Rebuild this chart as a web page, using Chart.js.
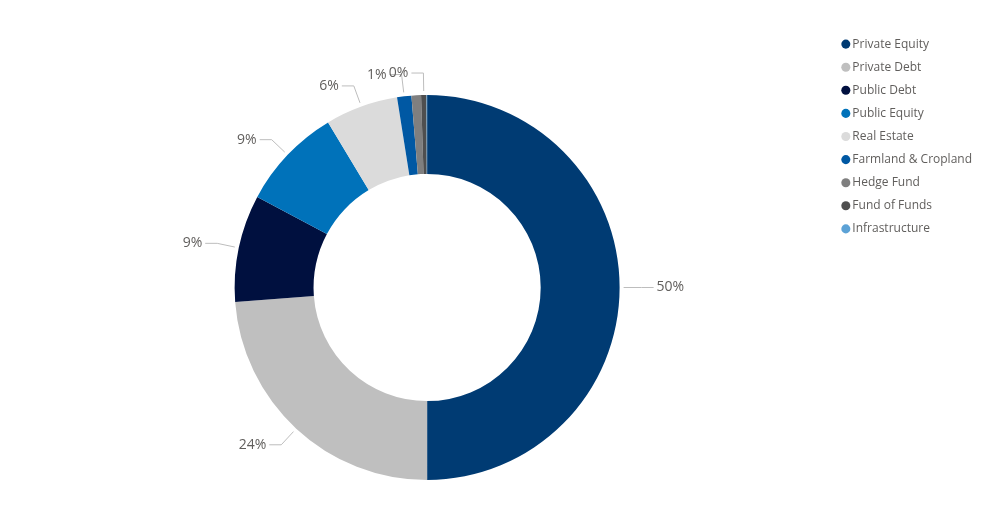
<!DOCTYPE html>
<html>
<head>
<meta charset="utf-8">
<script src="https://cdn.jsdelivr.net/npm/chart.js@4/dist/chart.umd.min.js"></script>
<style>
  body { margin: 0; background: #fff; }
  #wrap { width: 1000px; height: 507px; position: relative; }
</style>
</head>
<body>
<div id="wrap"><canvas id="myChart"></canvas></div>
<script>
// ------------- data -------------
const categories = ['Private Equity', 'Private Debt', 'Public Debt', 'Public Equity', 'Real Estate',
                    'Farmland & Cropland', 'Hedge Fund', 'Fund of Funds', 'Infrastructure'];
const shares = [50, 23.8, 9.0, 8.6, 6.1, 1.2, 0.8, 0.45, 0.05];
const sliceColors = ['#003B73', '#BFBFBF', '#00103F', '#0072BA', '#DBDBDB',
                     '#0058A3', '#7F7F7F', '#4F4F4F', '#5CA2D6'];

const textColor = '#605E5C';
const lineColor = '#BDBDBD';
const fontFamily = '"Open Sans", "Segoe UI", sans-serif';

// outside labels with leader lines, skipped when they would collide
const leaderLabels = {
    id: 'leaderLabels',
    afterDatasetsDraw(chart) {
        const ctx = chart.ctx;
        const meta = chart.getDatasetMeta(0);
        const values = chart.data.datasets[0].data;
        const total = values.reduce((a, b) => a + b, 0);
        const placed = [];

        ctx.save();
        ctx.font = '14px ' + fontFamily;
        ctx.textBaseline = 'middle';
        ctx.lineWidth = 1;
        ctx.strokeStyle = lineColor;
        ctx.fillStyle = textColor;

        meta.data.forEach((arc, i) => {
            const p = arc.getProps(['x', 'y', 'startAngle', 'endAngle', 'outerRadius']);
            const mid = (p.startAngle + p.endAngle) / 2;
            const cos = Math.cos(mid), sin = Math.sin(mid);
            const side = cos >= 0 ? 1 : -1;

            const x0 = p.x + (p.outerRadius + 4) * cos;
            const y0 = p.y + (p.outerRadius + 4) * sin;
            const x1 = p.x + (p.outerRadius + 22) * cos;
            const y1 = p.y + (p.outerRadius + 22) * sin;
            const x2 = x1 + side * 12;
            const tx = x2 + side * 3;

            const text = Math.round(values[i] / total * 100) + '%';
            const w = ctx.measureText(text).width;
            const box = {
                left: side > 0 ? tx : tx - w,
                right: side > 0 ? tx + w : tx,
                top: y1 - 8,
                bottom: y1 + 8
            };
            const hit = placed.some(b => box.left < b.right && box.right > b.left &&
                                         box.top < b.bottom && box.bottom > b.top);
            if (hit) return;
            placed.push(box);

            ctx.beginPath();
            ctx.moveTo(x0, y0);
            ctx.lineTo(x1, y1);
            ctx.lineTo(x2, y1);
            ctx.stroke();

            ctx.textAlign = side > 0 ? 'left' : 'right';
            ctx.fillText(text, tx, y1);
        });
        ctx.restore();
    }
};

const ctx = document.getElementById('myChart').getContext('2d');

const myChart = new Chart(ctx, {
    type: 'doughnut',
    data: {
        labels: categories,
        datasets: [{
            data: shares,
            backgroundColor: sliceColors,
            borderWidth: 0,
            radius: 192.5,
            cutout: '59%'
        }]
    },
    options: {
        responsive: true,
        maintainAspectRatio: false,
        animation: false,
        layout: {
            padding: { top: 27, left: 20, right: 18, bottom: 0 }
        },
        plugins: {
            title: {
                display: true,
                text: '',
                font: { size: 12 },
                padding: { top: 0, bottom: 26.6 }
            },
            legend: {
                position: 'right',
                align: 'start',
                labels: {
                    usePointStyle: true,
                    pointStyle: 'circle',
                    boxWidth: 1,
                    boxHeight: 6.4,
                    padding: 11.1,
                    color: textColor,
                    font: { family: fontFamily, size: 12 }
                }
            },
            tooltip: { enabled: false }
        }
    },
    plugins: [leaderLabels]
});
</script>
</body>
</html>
